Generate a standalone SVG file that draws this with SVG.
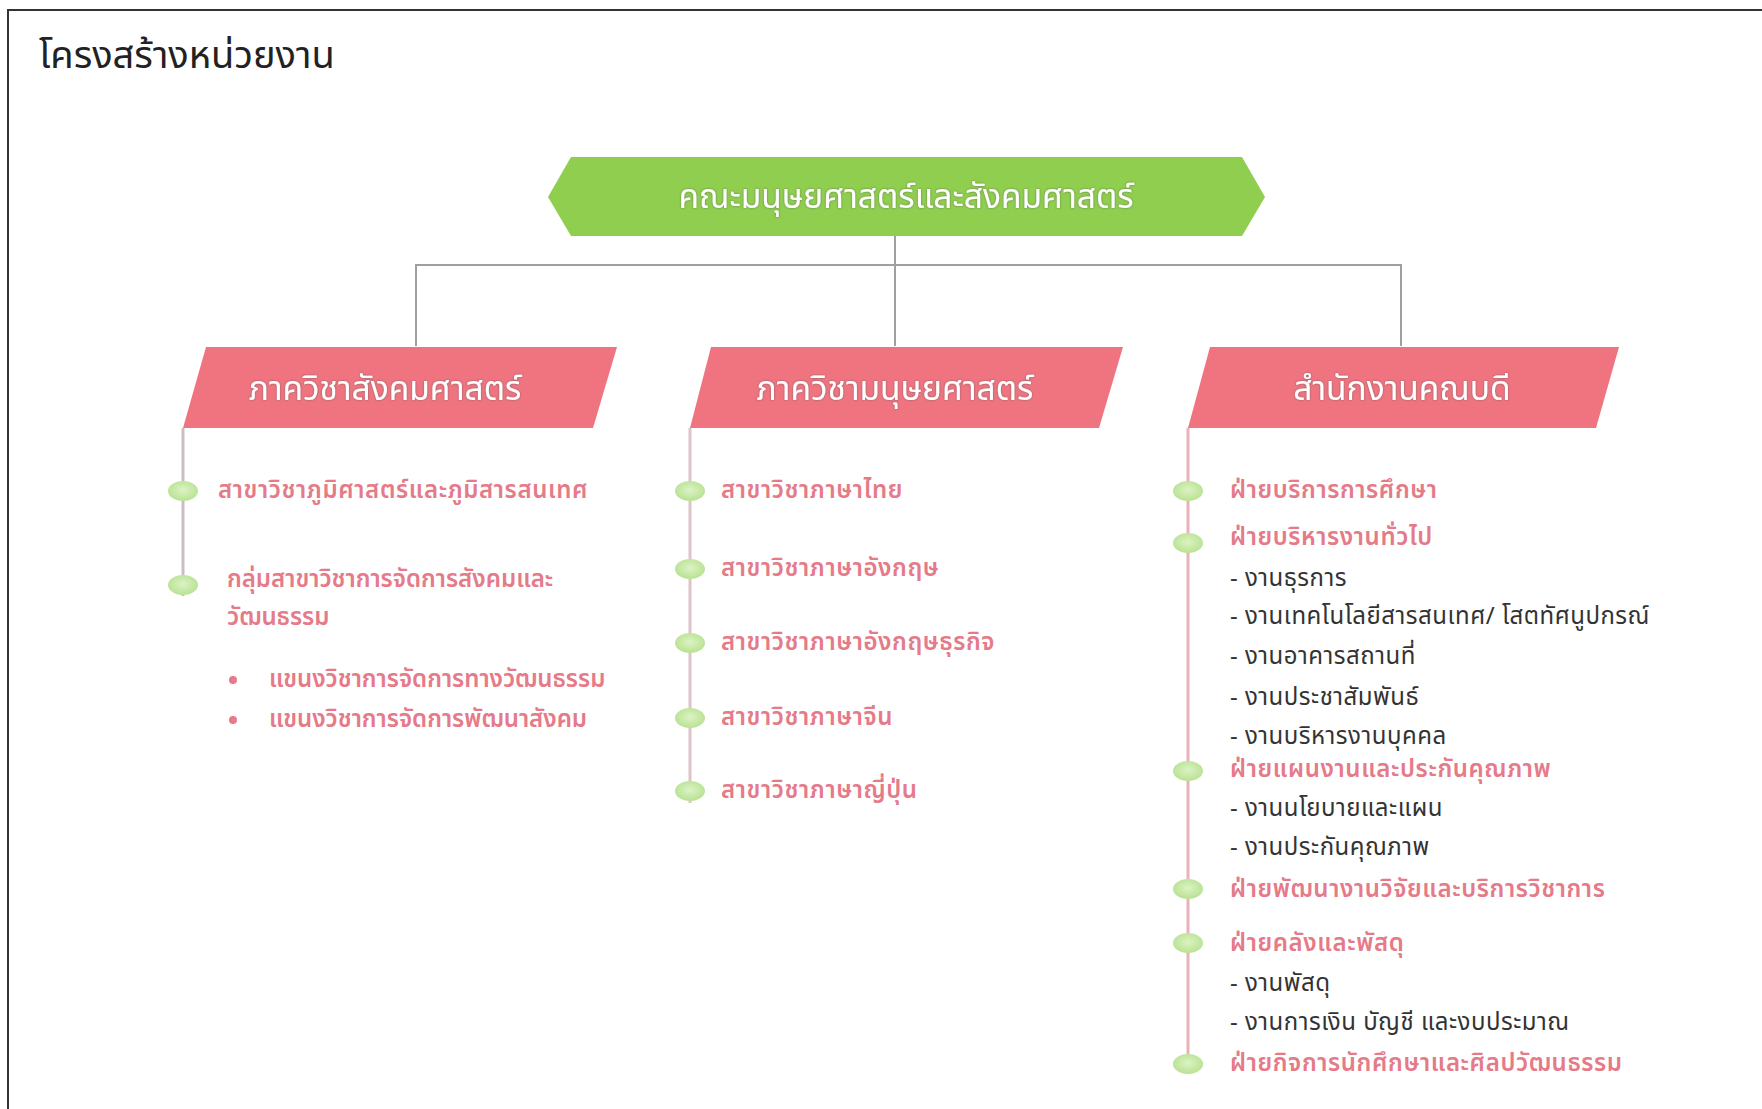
<svg xmlns="http://www.w3.org/2000/svg" width="1762" height="1109" viewBox="0 0 1762 1109">
<defs>
  <style>
    .thai { font-family: "Noto Sans Thai", "Noto Sans", "DejaVu Sans", sans-serif; }
    .title { font-size: 38px; fill: #222; }
    .hdr { font-size: 33.5px; fill: #ffffff; text-anchor: middle; dominant-baseline: central; }
    .pink { font-size: 24px; font-weight: 600; fill: #e57a88; dominant-baseline: central; letter-spacing: 0.6px; }
    .tight { letter-spacing: 0px; }
    .dark { font-size: 24px; fill: #333333; dominant-baseline: central; letter-spacing: 0.5px; }
    .conn { fill: none; stroke: #a0a0a0; stroke-width: 2; }
    .tl { fill: none; stroke-width: 3; }
    .dot { fill: url(#dotg); }
  </style>
  <radialGradient id="dotg" cx="50%" cy="45%" r="60%">
    <stop offset="0" stop-color="#dcf3c4"/>
    <stop offset="1" stop-color="#b5e08e"/>
  </radialGradient>
  <filter id="ts" x="-10%" y="-30%" width="120%" height="160%">
    <feDropShadow dx="0" dy="0" stdDeviation="1.2" flood-color="#555" flood-opacity="0.7"/>
  </filter>
</defs>
<rect x="0" y="0" width="1762" height="1109" fill="#ffffff"/>
<path d="M8 1109 V10 H1762" fill="none" stroke="#333" stroke-width="2"/>
<text class="thai title" x="39" y="68">โครงสร้างหน่วยงาน</text>

<g id="connectors">
  <path class="conn" d="M895 236 V346"/>
  <path class="conn" d="M416 346 V265 H1401 V346"/>
  <path class="tl" stroke="#c9bfc1" d="M183 428 V596"/>
  <path class="tl" stroke="#dcc4c8" d="M690 428 V803"/>
  <path class="tl" stroke="#eab1b8" d="M1188 428 V1073"/>
</g>

<g id="faculty">
  <polygon points="548,197 571,157 1242,157 1265,197 1242,236 571,236" fill="#8fce4e"/>
  <text class="thai hdr" x="906" y="197" filter="url(#ts)">คณะมนุษยศาสตร์และสังคมศาสตร์</text>
</g>

<g id="dept-social">
  <polygon points="206,347 617,347 593,428 183,428" fill="#ef7480"/>
  <text class="thai hdr" x="385" y="389" filter="url(#ts)">ภาควิชาสังคมศาสตร์</text>
</g>
<g id="dept-human">
  <polygon points="711,347 1123,347 1099,428 690,428" fill="#ef7480"/>
  <text class="thai hdr" x="895" y="389" filter="url(#ts)">ภาควิชามนุษยศาสตร์</text>
</g>
<g id="dean-office">
  <polygon points="1210,347 1619,347 1596,428 1188,428" fill="#ef7480"/>
  <text class="thai hdr" x="1402" y="389" filter="url(#ts)">สำนักงานคณบดี</text>
</g>

<g id="social-items">
  <ellipse class="dot" cx="183" cy="491" rx="15" ry="10"/>
  <text class="thai pink" x="218" y="491">สาขาวิชาภูมิศาสตร์และภูมิสารสนเทศ</text>
  <ellipse class="dot" cx="183" cy="585" rx="15" ry="10"/>
  <text class="thai pink tight" x="227" y="580">กลุ่มสาขาวิชาการจัดการสังคมและ</text>
  <text class="thai pink tight" x="227" y="618">วัฒนธรรม</text>
  <circle cx="233" cy="680" r="4" fill="#e57a88"/>
  <text class="thai pink tight" x="269" y="680">แขนงวิชาการจัดการทางวัฒนธรรม</text>
  <circle cx="233" cy="720" r="4" fill="#e57a88"/>
  <text class="thai pink tight" x="269" y="720">แขนงวิชาการจัดการพัฒนาสังคม</text>
</g>

<g id="human-items">
  <ellipse class="dot" cx="690" cy="491" rx="15" ry="10"/>
  <text class="thai pink" x="721" y="491">สาขาวิชาภาษาไทย</text>
  <ellipse class="dot" cx="690" cy="569" rx="15" ry="10"/>
  <text class="thai pink" x="721" y="569">สาขาวิชาภาษาอังกฤษ</text>
  <ellipse class="dot" cx="690" cy="643" rx="15" ry="10"/>
  <text class="thai pink" x="721" y="643">สาขาวิชาภาษาอังกฤษธุรกิจ</text>
  <ellipse class="dot" cx="690" cy="718" rx="15" ry="10"/>
  <text class="thai pink" x="721" y="718">สาขาวิชาภาษาจีน</text>
  <ellipse class="dot" cx="690" cy="791" rx="15" ry="10"/>
  <text class="thai pink" x="721" y="791">สาขาวิชาภาษาญี่ปุ่น</text>
</g>

<g id="dean-items">
  <ellipse class="dot" cx="1188" cy="491" rx="15" ry="10"/>
  <text class="thai pink" x="1230" y="491">ฝ่ายบริการการศึกษา</text>
  <ellipse class="dot" cx="1188" cy="543" rx="15" ry="10"/>
  <text class="thai pink" x="1230" y="538">ฝ่ายบริหารงานทั่วไป</text>
  <text class="thai dark" x="1230" y="579">- งานธุรการ</text>
  <text class="thai dark" x="1230" y="617">- งานเทคโนโลยีสารสนเทศ/ โสตทัศนูปกรณ์</text>
  <text class="thai dark" x="1230" y="657">- งานอาคารสถานที่</text>
  <text class="thai dark" x="1230" y="698">- งานประชาสัมพันธ์</text>
  <text class="thai dark" x="1230" y="737">- งานบริหารงานบุคคล</text>
  <ellipse class="dot" cx="1188" cy="771" rx="15" ry="10"/>
  <text class="thai pink" x="1230" y="770">ฝ่ายแผนงานและประกันคุณภาพ</text>
  <text class="thai dark" x="1230" y="809">- งานนโยบายและแผน</text>
  <text class="thai dark" x="1230" y="848">- งานประกันคุณภาพ</text>
  <ellipse class="dot" cx="1188" cy="889" rx="15" ry="10"/>
  <text class="thai pink" x="1230" y="890">ฝ่ายพัฒนางานวิจัยและบริการวิชาการ</text>
  <ellipse class="dot" cx="1188" cy="943" rx="15" ry="10"/>
  <text class="thai pink" x="1230" y="944">ฝ่ายคลังและพัสดุ</text>
  <text class="thai dark" x="1230" y="984">- งานพัสดุ</text>
  <text class="thai dark" x="1230" y="1023">- งานการเงิน บัญชี และงบประมาณ</text>
  <ellipse class="dot" cx="1188" cy="1064" rx="15" ry="10"/>
  <text class="thai pink" x="1230" y="1064">ฝ่ายกิจการนักศึกษาและศิลปวัฒนธรรม</text>
</g>
</svg>
